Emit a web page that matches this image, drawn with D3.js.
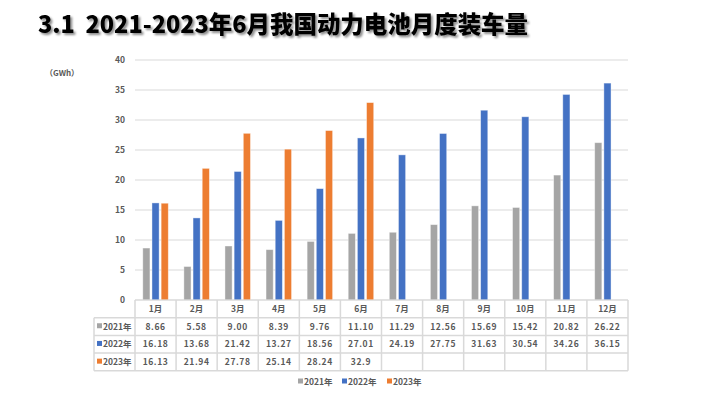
<!DOCTYPE html>
<html>
<head>
<meta charset="utf-8">
<style>
    body { margin: 0; background: #fff; }
    text { font-family: "Noto Sans CJK SC", "Noto Sans", sans-serif; }
    .title { white-space: pre; }
    .tick-label, .cell, .row-label, .legend text, .unit { fill: #595959; font-weight: bold; }
</style>
<script src="https://d3js.org/d3.v7.min.js"></script>
</head>
<body>
<script>
    // chart values
    var months = ['1月','2月','3月','4月','5月','6月','7月','8月','9月','10月','11月','12月'];
    var seriesNames = ['2021年','2022年','2023年'];
    var v2021 = ['8.66','5.58','9.00','8.39','9.76','11.10','11.29','12.56','15.69','15.42','20.82','26.22'];
    var v2022 = ['16.18','13.68','21.42','13.27','18.56','27.01','24.19','27.75','31.63','30.54','34.26','36.15'];
    var v2023 = ['16.13','21.94','27.78','25.14','28.24','32.9'];
    var yTicks = [0, 5, 10, 15, 20, 25, 30, 35, 40];
    var colors = ['#A5A5A5', '#4472C4', '#ED7D31'];

    function drawChart() {
        var width = 720, height = 398;
        var plotL = 135, plotR = 628, plotT = 60, plotB = 300;
        var rowH = 17.7;

        var allSeries = [v2021, v2022, v2023];

        var svg = d3.select('body').append('svg')
            .attr('width', width)
            .attr('height', height);

        var defs = svg.append('defs');
        var f = defs.append('filter').attr('id', 'shadow')
            .attr('x', '-5%').attr('y', '-30%').attr('width', '110%').attr('height', '160%');
        f.append('feDropShadow').attr('dx', 2).attr('dy', 2).attr('stdDeviation', 1.2)
            .attr('flood-color', '#000').attr('flood-opacity', 0.45);

        // title
        svg.append('text').attr('class', 'title')
            .attr('x', 38).attr('y', 33)
            .attr('font-size', 24)
            .attr('font-weight', 900)
            .attr('fill', '#000')
            .attr('filter', 'url(#shadow)')
            .attr('textLength', 490)
            .attr('lengthAdjust', 'spacingAndGlyphs')
            .text('3.1  2021-2023年6月我国动力电池月度装车量');

        var x0 = d3.scaleBand().domain(months).range([plotL, plotR]);
        var groupW = 25.5;
        var off = (x0.bandwidth() - groupW) / 2;
        var x1 = d3.scaleBand().domain(seriesNames).range([off, off + groupW]).paddingInner(0.22);
        var y = d3.scaleLinear().domain([0, 40]).range([plotB, plotT]);

        // grid
        svg.append('g').selectAll('line')
            .data(yTicks)
            .enter().append('line')
            .attr('x1', plotL).attr('x2', plotR)
            .attr('y1', function (d) { return y(d); })
            .attr('y2', function (d) { return y(d); })
            .attr('stroke', '#D9D9D9')
            .attr('stroke-width', 1);

        var yAxis = d3.axisLeft(y).tickValues(yTicks).tickSize(0).tickPadding(10);
        var ya = svg.append('g').attr('transform', 'translate(' + plotL + ',0)').call(yAxis);
        ya.select('.domain').remove();
        ya.selectAll('text').attr('class', 'tick-label')
            .attr('font-size', 8.5)
            .attr('font-family', '"Noto Sans CJK SC", sans-serif');

        svg.append('text').attr('class', 'unit')
            .attr('x', 45).attr('y', 76)
            .attr('font-size', 8)
            .text('（GWh）');

        // bars
        var groups = svg.append('g').selectAll('g')
            .data(seriesNames)
            .enter().append('g')
            .attr('fill', function (d, i) { return colors[i]; });

        groups.selectAll('rect')
            .data(function (s, i) {
                return allSeries[i].map(function (v, j) { return { s: s, m: months[j], v: +v }; });
            })
            .enter().append('rect')
            .attr('x', function (d) { return x0(d.m) + x1(d.s); })
            .attr('y', function (d) { return y(d.v); })
            .attr('width', x1.bandwidth())
            .attr('height', function (d) { return y(0) - y(d.v); })
            .attr('stroke', '#fff')
            .attr('stroke-opacity', 0.5)
            .attr('stroke-width', 0.8);

        // data table
        var tbl = svg.append('g');
        var lc = '#D9D9D9';
        var tLeft = 94;
        var rows = [plotB, plotB + rowH, plotB + 2 * rowH, plotB + 3 * rowH, plotB + 4 * rowH];

        tbl.append('line').attr('x1', plotL).attr('x2', plotR).attr('y1', rows[0]).attr('y2', rows[0])
            .attr('stroke', lc);
        tbl.selectAll('.hline')
            .data(rows.slice(1))
            .enter().append('line')
            .attr('x1', tLeft).attr('x2', plotR)
            .attr('y1', function (d) { return d; }).attr('y2', function (d) { return d; })
            .attr('stroke', lc).attr('stroke-width', 1.5);
        tbl.selectAll('.vline')
            .data(months.map(function (m) { return x0(m); }).concat([plotR]))
            .enter().append('line')
            .attr('x1', function (d) { return d; }).attr('x2', function (d) { return d; })
            .attr('y1', rows[0]).attr('y2', rows[4])
            .attr('stroke', lc).attr('stroke-width', 1.5);
        tbl.append('line').attr('x1', tLeft).attr('x2', tLeft).attr('y1', rows[1]).attr('y2', rows[4])
            .attr('stroke', lc).attr('stroke-width', 1.5);

        tbl.selectAll('.mlab')
            .data(months)
            .enter().append('text').attr('class', 'cell')
            .attr('x', function (d) { return x0(d) + x0.bandwidth() / 2; })
            .attr('y', rows[0] + rowH / 2 + 3)
            .attr('text-anchor', 'middle')
            .attr('font-size', 8.5)
            .text(function (d) { return d; });

        seriesNames.forEach(function (s, i) {
            var ry = rows[i + 1] + rowH / 2 + 3.2;
            tbl.append('rect').attr('x', tLeft + 3).attr('y', ry - 6.5)
                .attr('width', 5).attr('height', 5).attr('fill', colors[i]);
            tbl.append('text').attr('class', 'row-label')
                .attr('x', tLeft + 9).attr('y', ry)
                .attr('font-size', 8.5)
                .text(s);
            tbl.selectAll('.c' + i)
                .data(allSeries[i])
                .enter().append('text').attr('class', 'cell')
                .attr('x', function (d, j) { return x0(months[j]) + x0.bandwidth() / 2; })
                .attr('y', ry)
                .attr('text-anchor', 'middle')
                .attr('font-size', 8.5)
                .attr('letter-spacing', 0.6)
                .text(function (d) { return d; });
        });

        // legend
        var legX = [298, 342, 387];
        var leg = svg.append('g').attr('class', 'legend');
        seriesNames.forEach(function (s, i) {
            leg.append('rect').attr('x', legX[i]).attr('y', 378.5)
                .attr('width', 5).attr('height', 5).attr('fill', colors[i]);
            leg.append('text').attr('x', legX[i] + 6).attr('y', 384.5)
                .attr('font-size', 8.5)
                .text(s);
        });
    }

    drawChart();
</script>
</body>
</html>
